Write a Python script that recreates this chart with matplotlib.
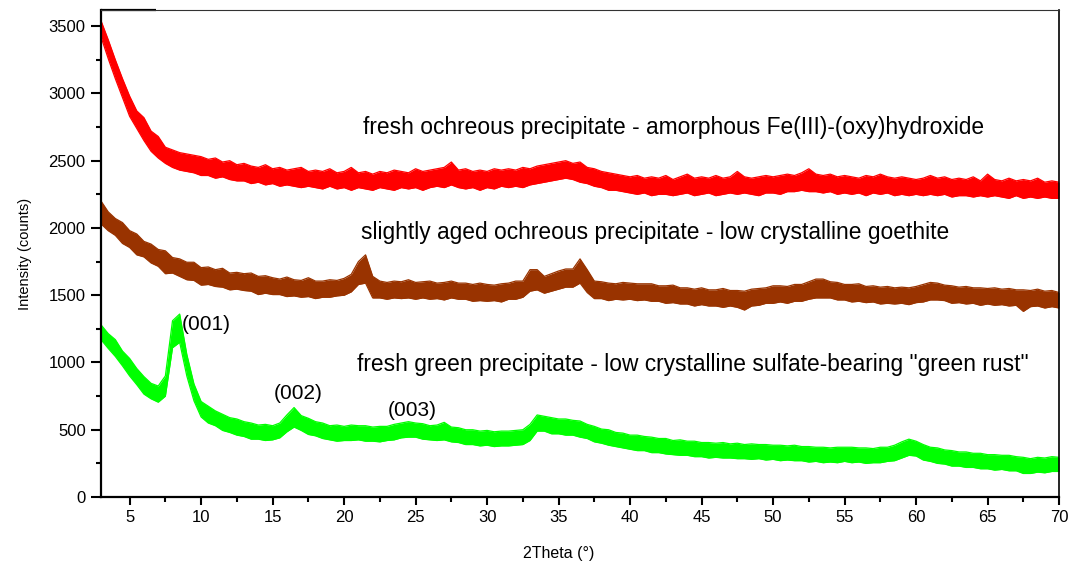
import numpy as np
import matplotlib
matplotlib.use("Agg")
import matplotlib.pyplot as plt
from matplotlib.ticker import MultipleLocator

plt.rcParams['font.family'] = ['Liberation Sans', 'DejaVu Sans']

# 2Theta sampling grid (degrees), 3.0 ... 70.0 every 0.5
two_theta = np.arange(3.0, 70.01, 0.5)

# Noise-band envelopes (counts)
red_upper = [3540, 3400, 3250, 3110, 2980, 2870, 2820, 2720, 2680, 2600,
             2580, 2560, 2550, 2540, 2530, 2510, 2520, 2490, 2500, 2470,
             2480, 2460, 2450, 2470, 2440, 2450, 2430, 2440, 2450, 2420,
             2430, 2420, 2440, 2410, 2420, 2450, 2410, 2420, 2400, 2420,
             2410, 2430, 2420, 2410, 2440, 2420, 2430, 2440, 2450, 2490,
             2430, 2440, 2420, 2430, 2420, 2440, 2430, 2440, 2430, 2450,
             2440, 2460, 2470, 2480, 2490, 2500, 2480, 2490, 2450, 2440,
             2420, 2410, 2400, 2390, 2380, 2390, 2370, 2380, 2370, 2390,
             2360, 2380, 2400, 2370, 2380, 2370, 2390, 2370, 2380, 2420,
             2380, 2370, 2380, 2390, 2380, 2390, 2400, 2390, 2410, 2440,
             2400, 2390, 2400, 2380, 2390, 2380, 2370, 2390, 2380, 2400,
             2380, 2370, 2380, 2370, 2360, 2370, 2390, 2370, 2380, 2360,
             2370, 2360, 2380, 2350, 2400, 2360, 2350, 2370, 2350, 2360,
             2350, 2370, 2340, 2350, 2340]
red_lower = [3420, 3260, 3110, 2970, 2830, 2740, 2650, 2570, 2520, 2480,
             2450, 2430, 2420, 2410, 2390, 2390, 2370, 2380, 2360, 2350,
             2350, 2330, 2340, 2320, 2330, 2310, 2320, 2310, 2300, 2310,
             2300, 2290, 2310, 2290, 2300, 2280, 2300, 2290, 2280, 2300,
             2290, 2280, 2300, 2290, 2300, 2280, 2300, 2310, 2300, 2320,
             2300, 2290, 2300, 2280, 2300, 2290, 2310, 2300, 2310, 2300,
             2320, 2330, 2340, 2350, 2360, 2370, 2360, 2340, 2330, 2310,
             2300, 2280, 2280, 2270, 2260, 2250, 2260, 2240, 2250, 2250,
             2240, 2250, 2260, 2240, 2250, 2260, 2240, 2250, 2260, 2250,
             2260, 2250, 2240, 2260, 2260, 2250, 2270, 2270, 2280, 2270,
             2270, 2260, 2270, 2250, 2260, 2250, 2260, 2240, 2260, 2250,
             2260, 2240, 2250, 2240, 2250, 2240, 2250, 2240, 2250, 2230,
             2240, 2240, 2230, 2240, 2230, 2240, 2230, 2220, 2240, 2220,
             2230, 2220, 2230, 2220, 2220]

brown_upper = [2200, 2120, 2070, 2040, 1980, 1955, 1900, 1880, 1840, 1830,
               1780, 1770, 1745, 1745, 1705, 1710, 1690, 1700, 1665, 1670,
               1660, 1665, 1640, 1645, 1630, 1620, 1635, 1615, 1610, 1630,
               1605, 1605, 1615, 1610, 1625, 1655, 1750, 1800, 1640, 1605,
               1595, 1605, 1600, 1615, 1595, 1600, 1605, 1590, 1595, 1605,
               1590, 1590, 1580, 1590, 1580, 1575, 1585, 1590, 1605, 1605,
               1690, 1690, 1640, 1660, 1680, 1695, 1695, 1770, 1690, 1605,
               1600, 1590, 1585, 1595, 1590, 1585, 1585, 1585, 1570, 1570,
               1575, 1555, 1555, 1545, 1555, 1540, 1540, 1550, 1535, 1535,
               1530, 1545, 1550, 1555, 1570, 1570, 1565, 1580, 1580, 1600,
               1620, 1620, 1600, 1595, 1580, 1580, 1585, 1565, 1570, 1560,
               1565, 1555, 1560, 1555, 1565, 1580, 1595, 1590, 1575, 1570,
               1560, 1565, 1555, 1555, 1550, 1555, 1545, 1550, 1540, 1540,
               1535, 1545, 1530, 1535, 1520]
brown_lower = [2030, 1980, 1945, 1885, 1855, 1800, 1785, 1740, 1715, 1660,
               1665, 1640, 1615, 1610, 1575, 1580, 1565, 1560, 1540, 1545,
               1535, 1530, 1505, 1515, 1505, 1505, 1490, 1495, 1485, 1490,
               1475, 1485, 1485, 1495, 1500, 1525, 1580, 1590, 1480, 1480,
               1470, 1480, 1475, 1480, 1470, 1480, 1470, 1475, 1465, 1480,
               1470, 1470, 1455, 1460, 1455, 1460, 1450, 1470, 1470, 1485,
               1530, 1540, 1515, 1530, 1545, 1560, 1560, 1590, 1520, 1475,
               1475, 1460, 1470, 1465, 1470, 1460, 1465, 1455, 1455, 1440,
               1445, 1435, 1435, 1420, 1430, 1420, 1420, 1410, 1420, 1410,
               1390, 1420, 1425, 1440, 1440, 1450, 1440, 1455, 1455, 1470,
               1480, 1480, 1480, 1465, 1465, 1450, 1455, 1445, 1450, 1435,
               1440, 1435, 1440, 1430, 1445, 1450, 1465, 1465, 1460, 1440,
               1445, 1435, 1440, 1425, 1435, 1425, 1430, 1420, 1425, 1380,
               1415, 1420, 1405, 1415, 1405]

green_upper = [1280, 1215, 1170, 1085, 1030, 955, 895, 845, 825, 900,
               1310, 1360, 1060, 840, 710, 675, 640, 615, 590, 580,
               560, 550, 535, 540, 530, 550, 610, 665, 605, 585,
               560, 550, 530, 535, 525, 535, 530, 530, 520, 525,
               525, 540, 550, 560, 550, 545, 530, 535, 555, 520,
               515, 500, 500, 490, 495, 485, 490, 490, 495, 500,
               540, 610, 600, 590, 580, 580, 570, 565, 540, 525,
               505, 500, 480, 475, 460, 460, 450, 445, 435, 435,
               420, 425, 415, 415, 405, 405, 400, 405, 395, 400,
               390, 395, 390, 390, 385, 385, 380, 385, 375, 375,
               370, 370, 365, 370, 370, 370, 365, 365, 360, 370,
               370, 385, 410, 430, 415, 390, 370, 365, 350, 345,
               335, 335, 325, 325, 315, 315, 310, 310, 300, 295,
               285, 295, 290, 300, 295]
green_lower = [1170, 1105, 1045, 975, 900, 835, 765, 730, 705, 750,
               1110, 1150, 900, 715, 595, 550, 530, 495, 480, 460,
               450, 430, 430, 420, 425, 440, 485, 520, 495, 465,
               455, 435, 425, 415, 420, 420, 425, 415, 415, 410,
               420, 425, 440, 445, 445, 430, 425, 420, 425, 410,
               405, 390, 390, 380, 385, 375, 380, 380, 385, 390,
               420, 490, 490, 470, 470, 460, 460, 445, 435, 410,
               400, 385, 375, 365, 355, 345, 345, 330, 330, 320,
               315, 310, 310, 300, 300, 290, 295, 290, 290, 285,
               285, 280, 285, 275, 280, 270, 275, 270, 270, 260,
               265, 255, 260, 255, 265, 255, 260, 250, 255, 255,
               265, 270, 290, 310, 305, 275, 265, 250, 245, 230,
               230, 220, 220, 210, 210, 200, 205, 195, 195, 175,
               175, 185, 180, 190, 190]

series_colors = ['#ff0000', '#993300', '#00ff00']
series_labels = ['fresh ochreous precipitate - amorphous Fe(III)-(oxy)hydroxide',
                 'slightly aged ochreous precipitate - low crystalline goethite',
                 'fresh green precipitate - low crystalline sulfate-bearing "green rust"']
peak_labels = ['(001)', '(002)', '(003)']

fig = plt.figure(figsize=(10.69, 5.63), dpi=100)
ax = fig.add_axes([0.0945, 0.1172, 0.8962, 0.865])

envelopes = [(red_upper, red_lower), (brown_upper, brown_lower), (green_upper, green_lower)]
for (up, lo), col in zip(envelopes, series_colors):
    up = np.asarray(up, float)
    lo = np.asarray(lo, float)
    ax.fill_between(two_theta, lo, up, color=col, lw=0)
    ax.plot(two_theta, up, color=col, lw=0.9)
    ax.plot(two_theta, lo, color=col, lw=0.9)

ax.set_xlim(3, 70)
ax.set_ylim(0, 3620)

ax.xaxis.set_major_locator(MultipleLocator(5))
ax.xaxis.set_minor_locator(MultipleLocator(2.5))
ax.yaxis.set_major_locator(MultipleLocator(500))
ax.yaxis.set_minor_locator(MultipleLocator(250))
ax.set_xticks([5, 10, 15, 20, 25, 30, 35, 40, 45, 50, 55, 60, 65, 70])

ax.tick_params(axis='both', which='both', direction='out', top=False, right=False,
               labelsize=12, colors='black', width=1.5)
ax.tick_params(axis='y', which='major', length=7.5)
ax.tick_params(axis='y', which='minor', length=3.5)
ax.tick_params(axis='x', which='major', length=5.5)
ax.tick_params(axis='x', which='minor', length=3.5)

ax.spines['left'].set_linewidth(1.6)
ax.spines['bottom'].set_linewidth(1.6)
ax.spines['top'].set_linewidth(0.8)
ax.spines['top'].set_color('#333333')
ax.spines['right'].set_linewidth(1.2)

# short heavy segment on the top frame (as in the original)
ax.plot([3, 6.85], [1, 1], transform=ax.get_xaxis_transform(), color='black',
        lw=1.6, clip_on=False, solid_capstyle='butt')

ax.set_xlabel('2Theta (°)', fontsize=11.5, labelpad=16)
ax.xaxis.set_label_coords(0.478, -0.1)
ax.set_ylabel('Intensity (counts)', fontsize=10.5, labelpad=12)

ax.text(21.3, 2749, series_labels[0], fontsize=16.4, va='center', ha='left')
ax.text(21.2, 1969, series_labels[1], fontsize=16.4, va='center', ha='left')
ax.text(20.9, 988, series_labels[2], fontsize=16.4, va='center', ha='left')

ax.text(8.66, 1285, peak_labels[0], fontsize=15, va='center', ha='left')
ax.text(15.1, 773, peak_labels[1], fontsize=15, va='center', ha='left')
ax.text(23.07, 646, peak_labels[2], fontsize=15, va='center', ha='left')

fig.savefig('out.png', dpi=100)
